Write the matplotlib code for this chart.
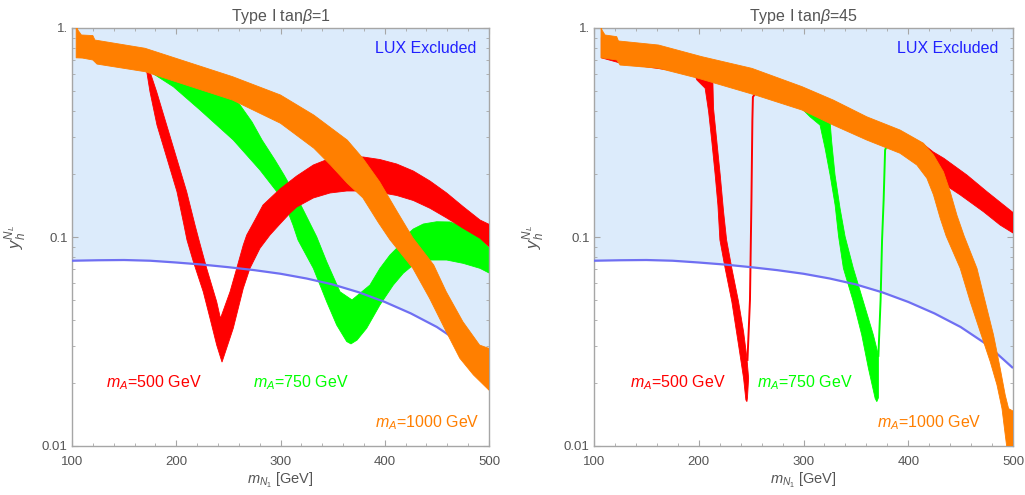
import numpy as np
import matplotlib
matplotlib.use("Agg")
import matplotlib.pyplot as plt
from matplotlib.ticker import FixedLocator, MultipleLocator, NullFormatter, LogLocator

plt.rcParams['font.family'] = ['Liberation Sans', 'DejaVu Sans']
plt.rcParams['mathtext.fontset'] = 'custom'
plt.rcParams['mathtext.rm'] = 'Liberation Sans'
plt.rcParams['mathtext.it'] = 'Liberation Sans:italic'
plt.rcParams['mathtext.bf'] = 'Liberation Sans:bold'

# ---------------- data ----------------
titles = ["Type I tan$\\beta$=1", "Type I tan$\\beta$=45"]
label_500 = "$m_A$=500 GeV"
label_750 = "$m_A$=750 GeV"
label_1000 = "$m_A$=1000 GeV"
lux_text = "LUX Excluded"

# LUX limit (same in both panels)
lux_x = [100, 125, 150, 175, 200, 225, 250, 275, 300, 325, 350, 375, 400, 425, 450, 475, 500]
lux_y = [0.0770, 0.0774, 0.0776, 0.0770, 0.0755, 0.0738, 0.0717, 0.0694, 0.0667, 0.0633, 0.0593, 0.0544,
         0.0489, 0.0431, 0.0371, 0.0306, 0.0236]

# ---- left panel (tan beta = 1) ----
L_or_up_x = [104, 105.5, 109, 120, 122, 170, 254, 300, 332, 364, 379, 395, 412, 427, 447, 459, 475, 491, 500]
L_or_up_y = [1.05, 0.98, 0.926, 0.92, 0.876, 0.80, 0.585, 0.478, 0.383, 0.291, 0.238, 0.184, 0.132, 0.099,
             0.0734, 0.0547, 0.0393, 0.0304, 0.0293]
L_or_lo_x = [104, 110, 120, 124, 170, 254, 300, 332, 348, 364, 379, 394, 405, 427, 443, 459, 472, 485, 500]
L_or_lo_y = [0.72, 0.718, 0.703, 0.672, 0.618, 0.452, 0.350, 0.266, 0.221, 0.181, 0.154, 0.117, 0.097, 0.0708,
             0.0509, 0.0352, 0.0263, 0.0219, 0.0185]

L_red_up_x = [168, 174.8, 181.2, 190.8, 200.4, 210.0, 218.0, 221.8, 229.2, 238.8, 242.4, 251.6, 258.0, 264.3,
              267.6, 275.5, 283.2, 299.5, 315.5, 331.5, 347.5, 363.5, 379.4, 395.4, 411.5, 427.4, 443.4, 459.4,
              475.3, 491.4, 500]
L_red_up_y = [0.68, 0.618, 0.4955, 0.3434, 0.2379, 0.1647, 0.1141, 0.0967, 0.0708, 0.049, 0.0408, 0.0547, 0.0708,
              0.0916, 0.1022, 0.1206, 0.1422, 0.1697, 0.1958, 0.2211, 0.2379, 0.2427, 0.2414, 0.2348, 0.2235,
              0.2069, 0.1853, 0.1624, 0.1396, 0.1206, 0.115]
L_red_lo_x = [168, 171.7, 174.8, 181.5, 191.1, 200.7, 207.4, 210.3, 216.4, 225.9, 232.4, 238.8, 243.9, 254.7,
              264.3, 270.7, 280.3, 289.9, 299.5, 309.1, 315.5, 331.5, 347.5, 363.5, 379.4, 395.4, 411.5, 427.4,
              443.4, 459.4, 475.3, 491.4, 500]
L_red_lo_y = [0.66, 0.618, 0.4955, 0.3434, 0.2379, 0.1647, 0.1141, 0.0967, 0.0762, 0.0547, 0.0408, 0.0304,
              0.0252, 0.0366, 0.0568, 0.0708, 0.0883, 0.1022, 0.1154, 0.1299, 0.1391, 0.1537, 0.1624, 0.166,
              0.166, 0.1633, 0.158, 0.1495, 0.1372, 0.1233, 0.110, 0.0986, 0.090]

L_grn_up_x = [172, 174.8, 213.2, 240, 254.7, 261.2, 272.7, 282.3, 294.7, 303.4, 318.7, 334.7, 344.3, 357.1, 368.6,
              385.8, 395.4, 405.0, 414.6, 421.0, 427.4, 437.0, 449.8, 462.6, 478.6, 491.4, 500]
L_grn_up_y = [0.68, 0.66, 0.56, 0.50, 0.46, 0.428, 0.355, 0.2911, 0.2335, 0.198, 0.1449, 0.1003, 0.0762, 0.0547,
              0.050, 0.0589, 0.0708, 0.082, 0.0916, 0.1022, 0.1092, 0.1154, 0.1183, 0.118, 0.1104, 0.0989, 0.0886]
L_grn_lo_x = [172, 174.8, 197.2, 222.8, 254.7, 280.3, 302.7, 312.0, 316.8, 331.5, 344.3, 353.9, 363.5, 367.6,
              373.4, 382.7, 395.4, 408.2, 417.8, 427.4, 443.4, 459.4, 475.3, 491.4, 500]
L_grn_lo_y = [0.65, 0.618, 0.5237, 0.4053, 0.2911, 0.2092, 0.1503, 0.1141, 0.0967, 0.0708, 0.049, 0.0379,
              0.0316, 0.0308, 0.0321, 0.0366, 0.0473, 0.0589, 0.0671, 0.0735, 0.0776, 0.0776, 0.0748, 0.0708,
              0.0673]

# ---- right panel (tan beta = 45) ----
R_or_up_x = [106.7, 107.5, 110.5, 121.7, 123.3, 161.6, 203, 250.8, 298.6, 328.5, 360.4, 392.2, 414.5, 424.1,
             433.6, 440, 446.5, 453.4, 465.6, 473.5, 481.4, 487.8, 492.6, 495.8, 500]
R_or_up_y = [1.05, 0.98, 0.926, 0.909, 0.867, 0.829, 0.729, 0.641, 0.524, 0.452, 0.376, 0.325, 0.281, 0.247,
             0.205, 0.165, 0.127, 0.101, 0.0708, 0.049, 0.034, 0.0235, 0.0175, 0.0151, 0.0147]
R_or_lo_x = [106.7, 110.5, 121.7, 124.9, 161.6, 199.8, 253.9, 298.6, 328.5, 360.4, 392.2, 408.2, 417.8, 424.1,
             430.5, 436.2, 449.6, 459.2, 468.7, 478.3, 484.7, 489.5, 492.6, 494.5, 496, 500]
R_or_lo_y = [0.72, 0.716, 0.703, 0.665, 0.642, 0.574, 0.478, 0.405, 0.343, 0.291, 0.2515, 0.221, 0.191, 0.159,
             0.123, 0.101, 0.0708, 0.049, 0.0352, 0.0253, 0.0196, 0.0151, 0.0113, 0.0095, 0.008, 0.008]

R_red_up_x = [107, 124, 162, 203, 251, 299, 329, 360, 392, 414.5, 424, 434, 456, 475, 500]
R_red_up_y = [0.9, 0.85, 0.81, 0.715, 0.63, 0.515, 0.445, 0.37, 0.32, 0.278, 0.255, 0.238, 0.198, 0.165, 0.131]
R_red_lo_x = [107, 124.9, 200, 300, 400, 430.4, 449.6, 471.9, 487.8, 500]
R_red_lo_y = [0.72, 0.68, 0.6, 0.43, 0.27, 0.184, 0.159, 0.132, 0.114, 0.1045]

R_red_dipL_x = [196, 198.2, 206.1, 209.4, 212.5, 215.7, 218.3, 220.2, 225.2, 231.6, 238.0, 242.8, 245.0, 246.0]
R_red_dipL_y = [0.60, 0.564, 0.515, 0.398, 0.286, 0.198, 0.142, 0.0967, 0.0708, 0.049, 0.0304, 0.0211, 0.0166, 0.0163]
R_red_dipR_x = [246.5, 247.6, 246.0, 242.8, 238.0, 231.6, 226.6, 223.7, 220.5, 217.3, 214.1, 213.5, 214]
R_red_dipR_y = [0.017, 0.0211, 0.0263, 0.0352, 0.049, 0.0708, 0.0967, 0.1321, 0.198, 0.2858, 0.4128, 0.5513, 0.60]
R_red_thin_x = [246.5, 248.9, 250.3, 251.2, 251.7, 254.6]
R_red_thin_y = [0.0258, 0.05, 0.150, 0.363, 0.468, 0.49]

R_grn_dipL_x = [296.7, 306.2, 315.8, 320.6, 325.4, 330.2, 333.5, 338.1, 347.6, 355.6, 362.0, 368.4, 370]
R_grn_dipL_y = [0.42, 0.376, 0.343, 0.266, 0.198, 0.142, 0.1006, 0.0708, 0.049, 0.034, 0.0235, 0.0169, 0.0163]
R_grn_dipR_x = [371.5, 371.5, 366.7, 357.2, 347.6, 339.7, 334.9, 330.1, 326.9, 325.3]
R_grn_dipR_y = [0.017, 0.0272, 0.034, 0.049, 0.0708, 0.1006, 0.1372, 0.198, 0.2858, 0.36]
R_grn_thin_x = [371.5, 373.6, 375.0, 376.5, 377.9, 379.5, 381]
R_grn_thin_y = [0.027, 0.05, 0.0967, 0.150, 0.2608, 0.272, 0.275]

# ---------------- style ----------------
C_RED = '#ff0000'
C_GRN = '#00ff00'
C_ORG = '#ff7f00'
C_FILL = '#dcebfb'
C_LUX = '#6f6ff2'
C_TXT = '#555555'
C_FRAME = '#a6a6a6'


def band(ax, ux, uy, lx, ly, color, z):
    xs = list(ux) + list(lx)[::-1]
    ys = list(uy) + list(ly)[::-1]
    ax.fill(xs, ys, color=color, lw=0.6, ec=color, zorder=z)


def poly(ax, x1, y1, x2, y2, color, z):
    ax.fill(list(x1) + list(x2), list(y1) + list(y2), color=color, lw=0.6, ec=color, zorder=z)


fig = plt.figure(figsize=(10.25, 4.95), dpi=100)
axL = fig.add_axes([72 / 1025, 49 / 495, 417 / 1025, 418 / 495])
axR = fig.add_axes([594 / 1025, 49 / 495, 419 / 1025, 418 / 495])

for ax, title in zip([axL, axR], titles):
    ax.set_xlim(100, 500)
    ax.set_yscale('log')
    ax.set_ylim(0.01, 1)
    ax.fill_between(lux_x, lux_y, 1.0, color=C_FILL, lw=0, zorder=0)
    ax.plot(lux_x, lux_y, color=C_LUX, lw=1.6, zorder=5, solid_capstyle='butt')
    ax.set_title(title, color=C_TXT, fontsize=11.5, pad=5)
    ax.xaxis.set_major_locator(FixedLocator([100, 200, 300, 400, 500]))
    ax.xaxis.set_minor_locator(MultipleLocator(20))
    ax.yaxis.set_major_locator(FixedLocator([0.01, 0.1, 1.0]))
    ax.yaxis.set_minor_locator(LogLocator(base=10, subs=np.arange(2, 10)))
    ax.yaxis.set_minor_formatter(NullFormatter())
    ax.set_yticklabels(['0.01', '0.1', '1.'])
    ax.tick_params(which='both', direction='in', top=True, right=True, color=C_FRAME,
                   labelcolor=C_TXT, labelsize=9.5)
    ax.tick_params(which='major', length=4, width=0.8)
    ax.tick_params(axis='x', which='major', pad=7)
    ax.tick_params(axis='y', which='major', pad=3)
    ax.tick_params(which='minor', length=2, width=0.6)
    for s in ax.spines.values():
        s.set_color(C_FRAME)
        s.set_linewidth(1.0)
    ax.set_xlabel('$m_{N_1}$ [GeV]', color=C_TXT, fontsize=10.5)
    ax.set_ylabel('$y_h^{N_L}$', color=C_TXT, fontsize=12)
    ax.xaxis.set_label_coords(0.5, -0.06)

axL.yaxis.set_label_coords(-0.105, 0.5)
axR.yaxis.set_label_coords(-0.115, 0.5)

# left panel bands
band(axL, L_grn_up_x, L_grn_up_y, L_grn_lo_x, L_grn_lo_y, C_GRN, 2)
band(axL, L_red_up_x, L_red_up_y, L_red_lo_x, L_red_lo_y, C_RED, 3)
band(axL, L_or_up_x, L_or_up_y, L_or_lo_x, L_or_lo_y, C_ORG, 6)

# right panel bands
poly(axR, R_grn_dipL_x, R_grn_dipL_y, R_grn_dipR_x, R_grn_dipR_y, C_GRN, 2)
axR.plot(R_grn_thin_x, R_grn_thin_y, color=C_GRN, lw=1.4, zorder=2)
band(axR, R_red_up_x, R_red_up_y, R_red_lo_x, R_red_lo_y, C_RED, 3)
poly(axR, R_red_dipL_x, R_red_dipL_y, R_red_dipR_x, R_red_dipR_y, C_RED, 3)
axR.plot(R_red_thin_x, R_red_thin_y, color=C_RED, lw=1.4, zorder=3)
band(axR, R_or_up_x, R_or_up_y, R_or_lo_x, R_or_lo_y, C_ORG, 6)

# texts
fs = 11.5
axL.text(488, 0.80, lux_text, color='#2020ff', fontsize=fs, ha='right', va='center', zorder=10)
axR.text(486, 0.80, lux_text, color='#2020ff', fontsize=fs, ha='right', va='center', zorder=10)
axL.text(133, 0.0201, label_500, color=C_RED, fontsize=fs, ha='left', va='center', zorder=10)
axL.text(274, 0.0201, label_750, color=C_GRN, fontsize=fs, ha='left', va='center', zorder=10)
axL.text(390.6, 0.01295, label_1000, color=C_ORG, fontsize=fs, ha='left', va='center', zorder=10)
axR.text(134, 0.0201, label_500, color=C_RED, fontsize=fs, ha='left', va='center', zorder=10)
axR.text(255.3, 0.0201, label_750, color=C_GRN, fontsize=fs, ha='left', va='center', zorder=10)
axR.text(370, 0.01295, label_1000, color=C_ORG, fontsize=fs, ha='left', va='center', zorder=10)

fig.savefig('out.png', dpi=100)
